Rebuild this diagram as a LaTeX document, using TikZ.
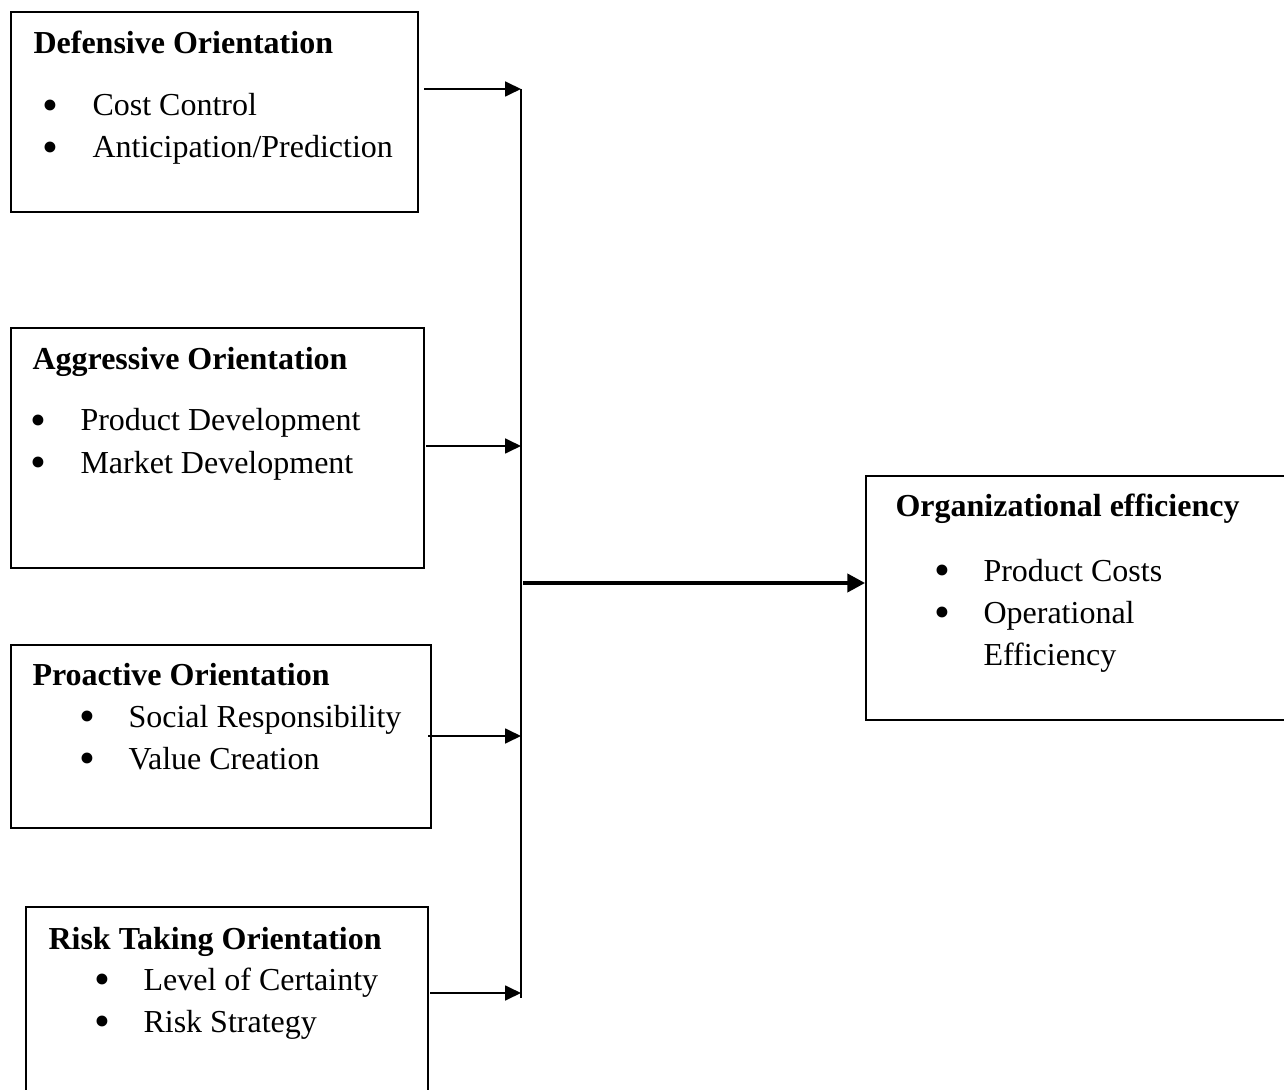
\documentclass[tikz,border=0pt]{standalone}
\usepackage{fontspec}
\setmainfont{Liberation Serif}
\usetikzlibrary{arrows.meta,fit}

\newcommand{\bodyfont}{\fontsize{12pt}{14pt}\selectfont}
\newcommand{\dotfont}{\fontsize{17pt}{17pt}\selectfont}

\begin{document}
\begin{tikzpicture}[x=0.375pt, y=-0.375pt, font=\bodyfont,
		box/.style={draw, line width=0.75pt, inner sep=0pt},
		head/.style={anchor=base west, inner sep=0pt, font=\bodyfont\bfseries},
		item/.style={anchor=base west, inner sep=0pt},
		dot/.style={anchor=center, inner sep=0pt, font=\dotfont},
		link/.style={-{Triangle[length=6pt, width=5.6pt]}, line width=0.75pt},
		mainlink/.style={-{Triangle[length=6.6pt, width=6.8pt]}, line width=1.3pt}]

	\useasboundingbox (0,0) rectangle (1284,1090);

	% Cajas
	\node[box, fit={(11,12) (418,212)}] (def) {};
	\node[box, fit={(11,328) (424,568)}] (agg) {};
	\node[box, fit={(11,645) (431,828)}] (pro) {};
	\node[box, fit={(26,907) (428,1110)}] (risk) {};
	\node[box, fit={(866,476) (1310,720)}] (org) {};

	% Defensive
	\node[head] (defh) at (33,54) {Defensive Orientation};
	\node[dot] (defb1) at (50,110) {\textbullet};
	\node[item] (deft1) at (92,116) {Cost Control};
	\node[dot] (defb2) at (50,152) {\textbullet};
	\node[item] (deft2) at (92,158) {Anticipation/Prediction};

	% Aggressive
	\node[head] (aggh) at (32,370) {Aggressive Orientation};
	\node[dot] (aggb1) at (38,425) {\textbullet};
	\node[item] (aggt1) at (80,431) {Product Development};
	\node[dot] (aggb2) at (38,467) {\textbullet};
	\node[item] (aggt2) at (80,473) {Market Development};

	% Proactive
	\node[head] (proh) at (32,685) {Proactive Orientation};
	\node[dot] (prob1) at (87,721) {\textbullet};
	\node[item] (prot1) at (128,727) {Social Responsibility};
	\node[dot] (prob2) at (87,763) {\textbullet};
	\node[item] (prot2) at (128,769) {Value Creation};

	% Risk taking
	\node[head] (riskh) at (48,949) {Risk Taking Orientation};
	\node[dot] (riskb1) at (102,984) {\textbullet};
	\node[item] (riskt1) at (143,990) {Level of Certainty};
	\node[dot] (riskb2) at (102,1026) {\textbullet};
	\node[item] (riskt2) at (143,1032) {Risk Strategy};

	% Organizational efficiency
	\node[head] (orgh) at (895,517) {Organizational efficiency};
	\node[dot] (orgb1) at (942,575) {\textbullet};
	\node[item] (orgt1) at (983,581) {Product Costs};
	\node[dot] (orgb2) at (942,617) {\textbullet};
	\node[item] (orgt2) at (983,623) {Operational};
	\node[item] (orgt3) at (983,665) {Efficiency};

	% Flechas
	\coordinate (defout) at (424,89);
	\coordinate (aggout) at (426,446);
	\coordinate (proout) at (428,736);
	\coordinate (riskout) at (430,993);
	\coordinate (bustop) at (521,89);
	\coordinate (busbot) at (521,998);
	\coordinate (hub) at (523,583);

	\draw[line width=0.75pt] (bustop) -- (busbot);
	\draw[link] (defout) -- (defout -| bustop);
	\draw[link] (aggout) -- (aggout -| bustop);
	\draw[link] (proout) -- (proout -| bustop);
	\draw[link] (riskout) -- (riskout -| bustop);
	\draw[mainlink] (hub) -- (hub -| org.west);

\end{tikzpicture}
\end{document}
